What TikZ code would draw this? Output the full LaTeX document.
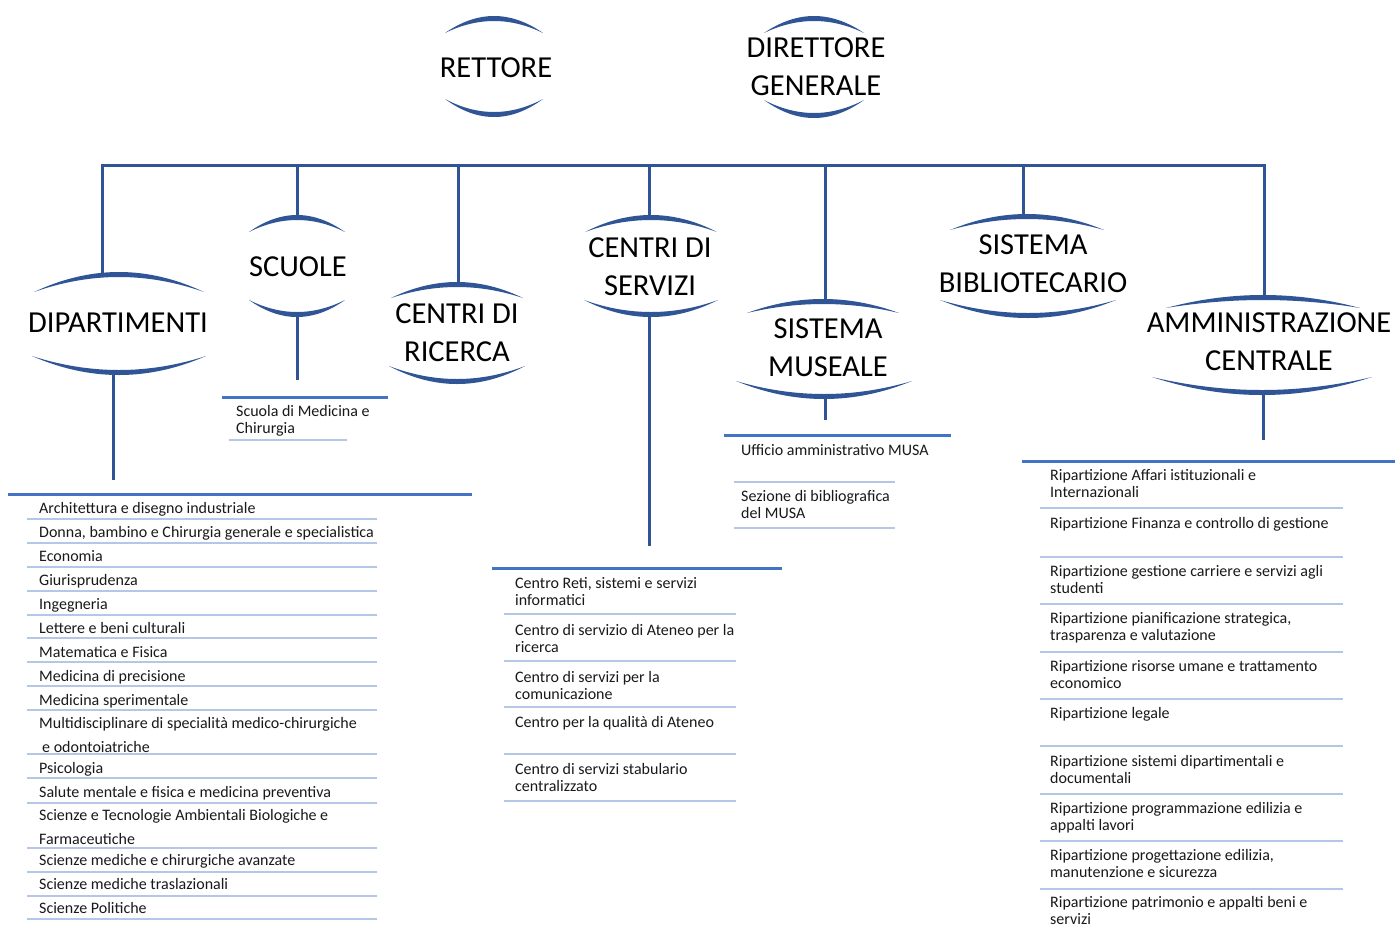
\documentclass[tikz,border=0pt]{standalone}
\usepackage{fontspec}
\setmainfont{Carlito}
\definecolor{dkblue}{HTML}{2F5597}
\definecolor{hdblue}{HTML}{4472C4}
\definecolor{sepblue}{HTML}{B4C7E7}
% crescent arc: #1 centre x, #2 half width, #3 y of the tips, #4 y of the outer apex, #5 signed thickness
\newcommand{\lensarc}[5]{%
  \fill[dkblue] ({#1-#2},#3) .. controls ({#1-#2/3},{(4*(#4)-(#3))/3}) and ({#1+#2/3},{(4*(#4)-(#3))/3}) .. ({#1+#2},#3)
     .. controls ({#1+#2/3},{(4*((#4)+(#5))-(#3))/3}) and ({#1-#2/3},{(4*((#4)+(#5))-(#3))/3}) .. cycle;}
\begin{document}
\begin{tikzpicture}[x=1pt,y=-1pt,
  conn/.style={draw=dkblue, line width=3pt},
  head/.style={draw=hdblue, line width=3pt},
  sepl/.style={draw=sepblue, line width=2pt},
  big/.style={font=\fontsize{30.5}{38}\selectfont, align=center, inner sep=0pt, text=black},
  itm/.style={font=\fontsize{16}{17}\selectfont, align=left, anchor=base west, inner sep=0pt, text=black!90},
  itmw/.style={itm, font=\fontsize{16}{24}\selectfont}]
\useasboundingbox (0,0) rectangle (1395,930);
\fill[white] (0,0) rectangle (1395,930);

% ---------- top nodes ----------
\node[big] (ret) at (496,68) {RETTORE};
\lensarc{494}{49}{33}{16}{5}
\lensarc{494}{49}{99}{117}{-5}

\node[big] (dir) at (816,67) {DIRETTORE\\GENERALE};
\lensarc{814}{50}{33}{16}{5}
\lensarc{814}{50}{100}{118}{-5}

% ---------- second level nodes ----------
\node[big] (dip) at (118,323) {DIPARTIMENTI};
\lensarc{119}{85}{292}{272}{5}
\lensarc{119}{87}{356}{375}{-5}

\node[big] (scu) at (298,267) {SCUOLE};
\lensarc{297}{48}{232}{215}{5}
\lensarc{297}{48}{300}{317}{-5}

\node[big] (ric) at (457,333) {CENTRI DI\\RICERCA};
\lensarc{457}{66}{298}{282}{5}
\lensarc{457}{68}{366}{384}{-5}

\node[big] (ser) at (650,267) {CENTRI DI\\SERVIZI};
\lensarc{651}{66}{232}{215}{5}
\lensarc{651}{67}{300}{317}{-5}

\node[big] (mus) at (828,348) {SISTEMA\\MUSEALE};
\lensarc{823}{76}{313}{299}{5}
\lensarc{824}{88}{381}{399}{-5}

\node[big] (bib) at (1033,264) {SISTEMA\\BIBLIOTECARIO};
\lensarc{1027}{77}{230}{214}{5}
\lensarc{1028}{88}{300}{318}{-5}

\node[big] (amm) at (1269,342) {AMMINISTRAZIONE\\CENTRALE};
\lensarc{1263}{97}{308}{295}{5}
\lensarc{1262}{110}{377}{395}{-5}

% ---------- connectors ----------
\coordinate (busL) at (102,165);
\coordinate (busR) at (1264,165);
\coordinate (dipU) at (102,274);
\coordinate (ammU) at (1264,296);
\coordinate (scuU) at (297,216);
\coordinate (ricU) at (458,283);
\coordinate (serU) at (649,216);
\coordinate (musU) at (825,300);
\coordinate (bibU) at (1023,215);
\draw[conn, line join=miter] (dipU) -- (busL) -- (busR) -- (ammU);
\draw[conn] (busL -| scuU) -- (scuU);
\draw[conn] (busL -| ricU) -- (ricU);
\draw[conn] (busL -| serU) -- (serU);
\draw[conn] (busL -| musU) -- (musU);
\draw[conn] (busL -| bibU) -- (bibU);

\coordinate (dipD) at (113,374);  \coordinate (dipE) at (113,480);
\coordinate (scuD) at (297,316);  \coordinate (scuE) at (297,380);
\coordinate (serD) at (649,316);  \coordinate (serE) at (649,546);
\coordinate (musD) at (825,398);  \coordinate (musE) at (825,420);
\coordinate (ammD) at (1263,394); \coordinate (ammE) at (1263,440);
\draw[conn] (dipD) -- (dipE);
\draw[conn] (scuD) -- (scuE);
\draw[conn] (serD) -- (serE);
\draw[conn] (musD) -- (musE);
\draw[conn] (ammD) -- (ammE);

% ---------- Dipartimenti list (anchor = baseline of last line) ----------
\draw[head] (8,494) -- (472,494);
\node[itm] (d1) at (39,513) {Architettura e disegno industriale};
\node[itm] (d2) at (39,537) {Donna, bambino e Chirurgia generale e specialistica};
\node[itm] (d3) at (39,561.5) {Economia};
\node[itm] (d4) at (39,585.5) {Giurisprudenza};
\node[itm] (d5) at (39,609.5) {Ingegneria};
\node[itm] (d6) at (39,633) {Lettere e beni culturali};
\node[itm] (d7) at (39,657) {Matematica e Fisica};
\node[itm] (d8) at (39,681) {Medicina di precisione};
\node[itm] (d9) at (39,705) {Medicina sperimentale};
\node[itmw] (d10) at (39,752.7) {Multidisciplinare di specialità medico-chirurgiche\\\hspace*{3pt}e odontoiatriche};
\node[itm] (d11) at (39,773) {Psicologia};
\node[itm] (d12) at (39,797) {Salute mentale e fisica e medicina preventiva};
\node[itmw] (d13) at (39,844.7) {Scienze e Tecnologie Ambientali Biologiche e\\Farmaceutiche};
\node[itm] (d14) at (39,865) {Scienze mediche e chirurgiche avanzate};
\node[itm] (d15) at (39,889) {Scienze mediche traslazionali};
\node[itm] (d16) at (39,913) {Scienze Politiche};
\foreach \y in {519,542.5,566.7,590.7,614.7,638.3,662.3,686.3,710,754.3,778.3,802.7,847.7,871.7,895.7,919.3}
  \draw[sepl] (27,\y) -- (377,\y);

% ---------- Scuole list ----------
\draw[head] (222,397) -- (388,397);
\node[itm] (s1) at (236,433) {Scuola di Medicina e\\Chirurgia};
\draw[sepl] (229,440) -- (347,440);

% ---------- Centri di servizi list ----------
\draw[head] (492,568) -- (782,568);
\node[itm] (c1) at (515,605) {Centro Reti, sistemi e servizi\\informatici};
\node[itm] (c2) at (515,652) {Centro di servizio di Ateneo per la\\ricerca};
\node[itm] (c3) at (515,699) {Centro di servizi per la\\comunicazione};
\node[itm] (c4) at (515,727) {Centro per la qualità di Ateneo};
\node[itm] (c5) at (515,791) {Centro di servizi stabulario\\centralizzato};
\foreach \y in {614,661,707,754,801}
  \draw[sepl] (504,\y) -- (736,\y);

% ---------- Sistema museale list ----------
\draw[head] (724,435) -- (951,435);
\node[itm] (m1) at (741,455) {Ufficio amministrativo MUSA};
\draw[sepl] (734,482) -- (895,482);
\node[itm] (m2) at (741,518) {Sezione di bibliografica\\del MUSA};
\draw[sepl] (734,528) -- (895,528);

% ---------- Amministrazione centrale list ----------
\draw[head] (1022,461) -- (1395,461);
\node[itm] (a1) at (1050,497) {Ripartizione Affari istituzionali e\\Internazionali};
\node[itm] (a2) at (1050,528) {Ripartizione Finanza e controllo di gestione};
\node[itm] (a3) at (1050,593) {Ripartizione gestione carriere e servizi agli\\studenti};
\node[itm] (a4) at (1050,640) {Ripartizione pianificazione strategica,\\trasparenza e valutazione};
\node[itm] (a5) at (1050,688) {Ripartizione risorse umane e trattamento\\economico};
\node[itm] (a6) at (1050,718) {Ripartizione legale};
\node[itm] (a7) at (1050,783) {Ripartizione sistemi dipartimentali e\\documentali};
\node[itm] (a8) at (1050,830) {Ripartizione programmazione edilizia e\\appalti lavori};
\node[itm] (a9) at (1050,877) {Ripartizione progettazione edilizia,\\manutenzione e sicurezza};
\node[itm] (a10) at (1050,924) {Ripartizione patrimonio e appalti beni e\\servizi};
\foreach \y in {508,557,604,652,699,746,794,841,889}
  \draw[sepl] (1040,\y) -- (1343,\y);
\end{tikzpicture}
\end{document}
